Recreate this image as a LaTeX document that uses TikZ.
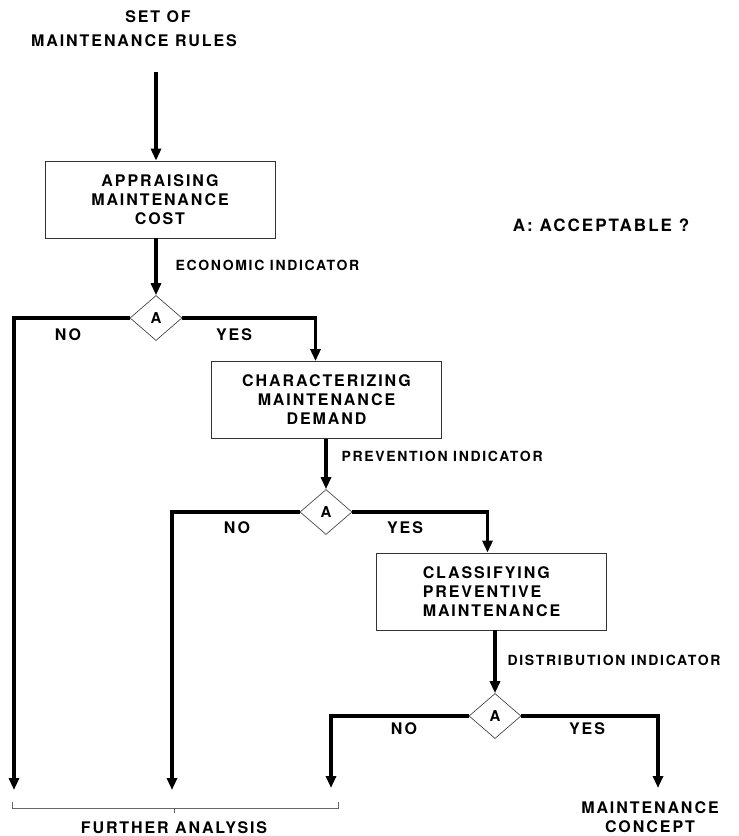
\documentclass[tikz,border=0pt]{standalone}
\usepackage{fontspec}
\setmainfont{TeX Gyre Heros}[LetterSpace=12]
\usetikzlibrary{positioning,shapes.geometric,arrows.meta}

\begin{document}
\begin{tikzpicture}[x=1pt,y=-1pt,
    taskbox/.style={draw=black!80,line width=0.8pt,minimum width=230pt,minimum height=77pt,font=\bfseries\fontsize{16}{19}\selectfont},
    check/.style={diamond,draw=black!80,line width=0.6pt,minimum width=52pt,minimum height=45pt,inner sep=0pt,font=\bfseries\fontsize{15}{16}\selectfont},
    flow/.style={line width=3.2pt,line join=miter,-{Triangle[length=12pt,width=10pt]}},
    note/.style={font=\bfseries\fontsize{16}{19}\selectfont,align=center},
    small/.style={font=\bfseries\fontsize{14}{16}\selectfont,anchor=west}]

    \useasboundingbox (0,0) rectangle (739,836);

    \node[note] (setof) at (158,17) {SET OF};
    \node[note] (rules) at (134,41) {MAINTENANCE RULES};
    \coordinate (start) at (156,72);

    \node[taskbox,align=center] (cost) at (160,199.5) {APPRAISING\\MAINTENANCE\\COST};
    \node[check] (d1) at (156,318) {A};
    \node[taskbox,align=center] (demand) at (326.5,400) {CHARACTERIZING\\MAINTENANCE\\DEMAND};
    \node[check] (d2) at (326,512) {A};
    \node[taskbox,align=left] (prev) at (491.5,591.5) {CLASSIFYING\\PREVENTIVE\\MAINTENANCE};
    \node[check] (d3) at (495,716) {A};

    \node[note,font=\bfseries\fontsize{17}{19}\selectfont] (accept) at (601,225) {A: ACCEPTABLE ?};

    \node[small] (econ) at (172,265) {ECONOMIC INDICATOR};
    \node[small] (prevind) at (338,456) {PREVENTION INDICATOR};
    \node[small] (distind) at (504,660) {DISTRIBUTION INDICATOR};

    \node[note] (no1) at (68,335) {NO};
    \node[note] (yes1) at (234,335) {YES};
    \node[note] (no2) at (237,528) {NO};
    \node[note] (yes2) at (405,528) {YES};
    \node[note] (no3) at (404,729) {NO};
    \node[note] (yes3) at (587,729) {YES};

    \coordinate (end1) at (14,790);
    \coordinate (end2) at (172,790);
    \coordinate (end3) at (331,788);
    \coordinate (endok) at (658,788);

    \node[note] (further) at (174,828) {FURTHER ANALYSIS};
    \node[note] (concept) at (650,817) {MAINTENANCE\\CONCEPT};

    % main flow
    \draw[flow] (start) -- (start |- cost.north);
    \draw[flow] (cost.south -| d1) -- (d1);
    \draw[flow] (d1.west) -| (end1);
    \draw[flow] (d1.east) -| ([xshift=-11pt]demand.north);
    \draw[flow] (demand.south -| d2) -- (d2);
    \draw[flow] (d2.west) -| (end2);
    \draw[flow] (d2.east) -| ([xshift=-4pt]prev.north);
    \draw[flow] (prev.south -| d3) -- (d3);
    \draw[flow] (d3.west) -| (end3);
    \draw[flow] (d3.east) -| (endok);

    % bracket
    \draw[black!60,line width=0.6pt] (12,802) |- (338,808) -- (338,802);
    \draw[black!60,line width=0.6pt] (further.north |- 0,808) -- (further.north |- 0,813);

\end{tikzpicture}
\end{document}
